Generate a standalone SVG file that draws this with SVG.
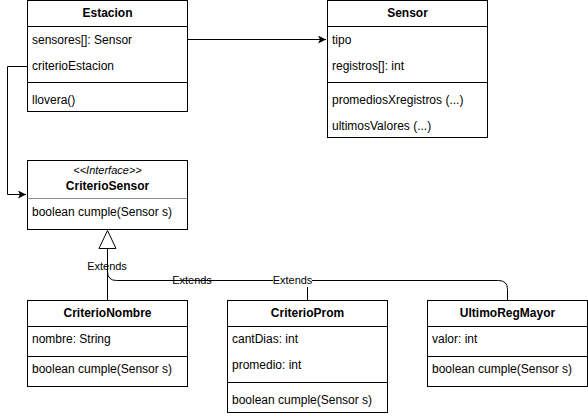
<svg xmlns="http://www.w3.org/2000/svg" width="588" height="416" viewBox="0 0 588 416">
<style>
text{font-family:"Liberation Sans",Arial,sans-serif;font-size:12px;fill:#000}
.h{font-weight:bold;text-anchor:middle}
.lbl{font-size:11px;text-anchor:middle}
.box{fill:#fff;stroke:#000;stroke-width:1}
.ln{stroke:#000;stroke-width:1;fill:none}
.sep{stroke:#8c8c8c;stroke-width:1}
</style>
<defs>
<marker id="arr" markerWidth="10" markerHeight="10" refX="8" refY="4" orient="auto" markerUnits="userSpaceOnUse">
<path d="M0,0 L8,4 L0,8 L2,4 Z" fill="#000"/>
</marker>
</defs>
<rect width="588" height="416" fill="#fff"/>
<g id="connectors">
<path class="ln" d="M187,39.5 H326" marker-end="url(#arr)"/>
<path class="ln" d="M27,66.5 H7.5 V194.5 H26" marker-end="url(#arr)"/>
<path class="ln" d="M107.5,300 V248"/>
<path class="ln" d="M307.5,300 V280.5 H116.5 Q107.5,280.5 107.5,271.5 V248"/>
<path class="ln" d="M507.5,300 V289.5 Q507.5,280.5 498.5,280.5 H300"/>
<polygon points="107.5,230.5 99,248.5 116,248.5" fill="#fff" stroke="#000" stroke-width="1"/>
<text class="lbl" x="107" y="270">Extends</text>
<text class="lbl" x="192" y="284">Extends</text>
<rect x="273" y="274" width="39" height="13" fill="#fff"/>
<text class="lbl" x="292.5" y="284">Extends</text>
</g>
<g id="Estacion">
<rect class="box" x="27.5" y="0.5" width="160" height="111"/>
<line class="ln" x1="27.5" y1="26.5" x2="187.5" y2="26.5"/>
<line class="ln" x1="27.5" y1="82.5" x2="187.5" y2="82.5"/>
<text class="h" x="107.5" y="17">Estacion</text>
<text x="32" y="44">sensores[]: Sensor</text>
<text x="32" y="70">criterioEstacion</text>
<text x="32" y="104">llovera()</text>
</g>
<g id="Sensor">
<rect class="box" x="327.5" y="0.5" width="160" height="137"/>
<line class="ln" x1="327.5" y1="26.5" x2="487.5" y2="26.5"/>
<line class="ln" x1="327.5" y1="82.5" x2="487.5" y2="82.5"/>
<text class="h" x="407.5" y="17">Sensor</text>
<text x="332" y="44">tipo</text>
<text x="332" y="70">registros[]: int</text>
<text x="332" y="104">promediosXregistros (...)</text>
<text x="332" y="130">ultimosValores (...)</text>
</g>
<g id="CriterioSensor">
<rect class="box" x="27.5" y="160.5" width="160" height="69"/>
<line class="sep" x1="27.5" y1="198.5" x2="187.5" y2="198.5"/>
<text x="107.5" y="174" style="font-size:11px;font-style:italic;text-anchor:middle">&lt;&lt;Interface&gt;&gt;</text>
<text class="h" x="107.5" y="190">CriterioSensor</text>
<text x="32" y="216">boolean cumple(Sensor s)</text>
</g>
<g id="CriterioNombre">
<rect class="box" x="27.5" y="300.5" width="160" height="86"/>
<line class="ln" x1="27.5" y1="326.5" x2="187.5" y2="326.5"/>
<line class="ln" x1="27.5" y1="356.5" x2="187.5" y2="356.5"/>
<text class="h" x="107.5" y="317">CriterioNombre</text>
<text x="32" y="343">nombre: String</text>
<text x="32" y="373">boolean cumple(Sensor s)</text>
</g>
<g id="CriterioProm">
<rect class="box" x="227.5" y="300.5" width="160" height="112"/>
<line class="ln" x1="227.5" y1="326.5" x2="387.5" y2="326.5"/>
<line class="ln" x1="227.5" y1="382.5" x2="387.5" y2="382.5"/>
<text class="h" x="307.5" y="317">CriterioProm</text>
<text x="232" y="343">cantDias: int</text>
<text x="232" y="369">promedio: int</text>
<text x="232" y="404">boolean cumple(Sensor s)</text>
</g>
<g id="UltimoRegMayor">
<rect class="box" x="427.5" y="300.5" width="160" height="86"/>
<line class="ln" x1="427.5" y1="326.5" x2="587.5" y2="326.5"/>
<line class="ln" x1="427.5" y1="356.5" x2="587.5" y2="356.5"/>
<text class="h" x="507.5" y="317">UltimoRegMayor</text>
<text x="432" y="343">valor: int</text>
<text x="432" y="373">boolean cumple(Sensor s)</text>
</g>
</svg>
